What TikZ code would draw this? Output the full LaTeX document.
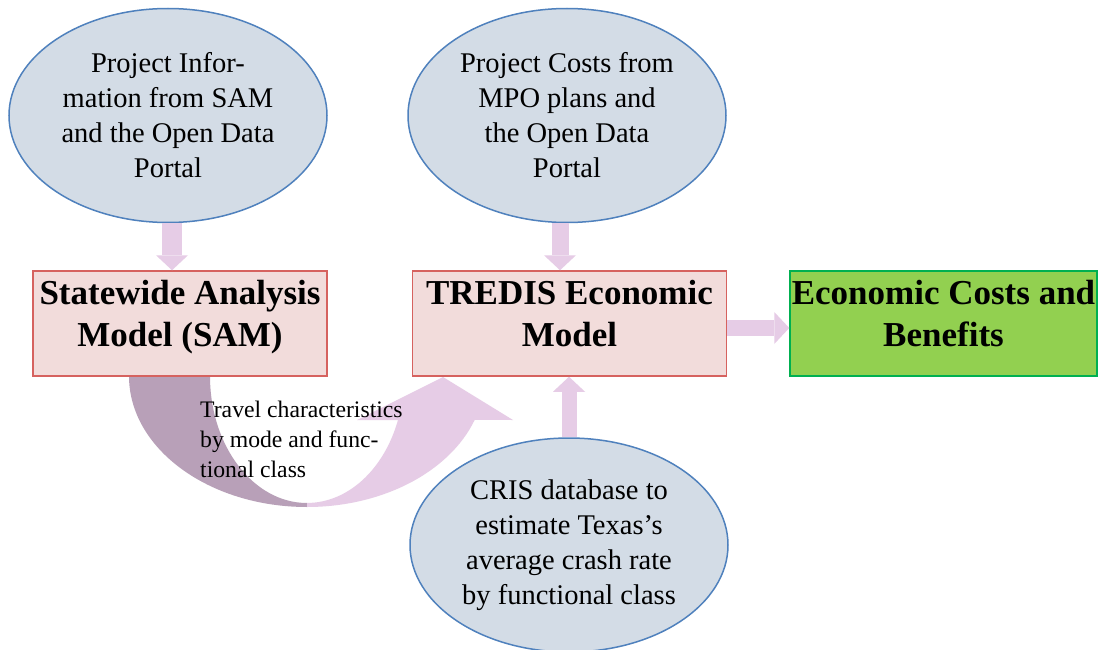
\documentclass[tikz,border=0pt]{standalone}
\usepackage{fontspec}
\setmainfont{Liberation Serif}
\usetikzlibrary{arrows.meta, positioning, shapes.geometric}
\definecolor{srcFill}{HTML}{D3DCE6}
\definecolor{srcLine}{HTML}{4F81BD}
\definecolor{modelFill}{HTML}{F2DCDB}
\definecolor{modelLine}{HTML}{D6625F}
\definecolor{resultFill}{HTML}{92D050}
\definecolor{resultLine}{HTML}{00B050}
\definecolor{flowLight}{HTML}{E6CCE6}
\definecolor{flowDark}{HTML}{B8A0B8}
\newcommand{\modelstrut}{\rule[-20pt]{0pt}{0pt}}

\begin{document}
\begin{tikzpicture}[x=1pt, y=-1pt,
    source/.style={ellipse, fill=srcFill, draw=srcLine, line width=1.5pt,
                   minimum width=318pt, minimum height=214pt, inner sep=0pt,
                   align=center, font=\fontsize{28.5}{35}\selectfont},
    model/.style={rectangle, fill=modelFill, draw=modelLine, line width=1.5pt,
                  minimum height=105pt, inner sep=0pt, align=center,
                  font=\fontsize{35}{42}\selectfont\bfseries},
    blockarrow/.style={flowLight, line width=17pt,
                       -{Triangle[width=32pt, length=15pt, line width=0pt]}},
  ]
    \useasboundingbox (0,0) rectangle (1098,650);
    \fill[white] (0,0) rectangle (1098,650);

    % U-turn arrow SAM -> TREDIS
    \fill[flowDark] (129,376)
      arc[start angle=180, end angle=90, x radius=178, y radius=131]
      -- (307,503)
      arc[start angle=90, end angle=180, x radius=97, y radius=127] -- cycle;
    \fill[flowLight] (307,507)
      arc[start angle=90, end angle=19.6, x radius=178, y radius=131]
      -- (513,420) -- (443,377) -- (357,420) -- (398,420)
      arc[start angle=20.3, end angle=90, x radius=97, y radius=127] -- cycle;

    % SOURCES
    \node[source] (info) at (168,115.5)
      {Project Infor-\\mation from SAM\\and the Open Data\\Portal};
    \node[source] (costs) at (567,115.5)
      {Project Costs from\\MPO plans and\\the Open Data\\Portal};
    \node[source] (cris) at (569,545)
      {CRIS database to\\estimate Texas’s\\average crash rate\\by functional class};

    % MODELS
    \node[model, minimum width=294pt] (sam) at (180,323.5)
      {Statewide Analysis\\Model (SAM)\modelstrut};
    \node[model, minimum width=314pt, right=84pt of sam] (tredis)
      {TREDIS Economic\\Model\modelstrut};
    \node[model, fill=resultFill, draw=resultLine, minimum width=307pt,
          right=62pt of tredis] (benefits)
      {Economic Costs and\\Benefits\modelstrut};

    % Arrows
    \coordinate (infoout) at ([xshift=4pt]info.south);
    \coordinate (costsout) at ([xshift=-7pt]costs.south);
    \coordinate (tredisout) at ([yshift=-4.5pt]tredis.east);
    \draw[blockarrow, line width=20pt] (infoout) -- (infoout |- sam.north);
    \draw[blockarrow] (costsout) -- (costsout |- tredis.north);
    \draw[blockarrow, line width=15pt] (cris.north) -- (cris.north |- tredis.south);
    \draw[blockarrow, line width=16pt] (tredisout) -- (tredisout -| benefits.west);

    \node[anchor=north west, inner sep=0pt, align=left,
          font=\fontsize{23.7}{30}\selectfont] (travel) at (200,401)
      {Travel characteristics\\by mode and func-\\tional class};
\end{tikzpicture}
\end{document}
